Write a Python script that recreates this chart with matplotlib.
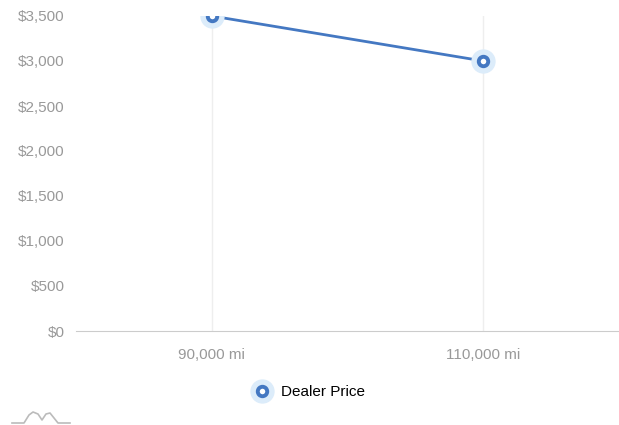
import matplotlib
matplotlib.use("Agg")
import matplotlib.pyplot as plt
from matplotlib.lines import Line2D
from matplotlib.legend_handler import HandlerTuple
from matplotlib.ticker import FuncFormatter

# data
mileage = ["90,000 mi", "110,000 mi"]
dealer_price = [3500, 3000]
y_ticks = [0, 500, 1000, 1500, 2000, 2500, 3000, 3500]

blue = "#4478c2"
halo = "#dcecfa"
grey = "#999999"

plt.rcParams['font.family'] = ['Liberation Sans', 'DejaVu Sans']

fig = plt.figure(figsize=(6.19, 4.25), dpi=100)
ax = fig.add_axes([76/619, (425-331)/425, 1 - 76/619, (331-16)/425])

x = list(range(len(mileage)))
ax.plot(x, dealer_price, color=blue, lw=2.0, zorder=3)
ax.plot(x, dealer_price, ls="none", marker="o", ms=16.5, mfc=halo, mec=halo, zorder=4)
ax.plot(x, dealer_price, ls="none", marker="o", ms=6.8, mfc="white", mec=blue, mew=2.8, zorder=5)

ax.set_xlim(-0.5, 1.5)
ax.set_ylim(0, 3500)
ax.set_xticks(x)
ax.set_xticklabels(mileage)
ax.set_yticks(y_ticks)
ax.yaxis.set_major_formatter(FuncFormatter(lambda v, p: "${:,.0f}".format(v)))
ax.tick_params(axis="both", length=0, colors=grey, labelsize=11)
ax.tick_params(axis="y", pad=8)
ax.tick_params(axis="x", pad=12)

for s in ["top", "right", "left"]:
    ax.spines[s].set_visible(False)
ax.spines["bottom"].set_color("#cccccc")
ax.grid(axis="x", color="#eeeeee", lw=1)
ax.set_axisbelow(True)

# legend
h_line = Line2D([], [], color=blue, lw=1, ls=(0, (1, 12)))
h_halo = Line2D([], [], ls="none", marker="o", ms=16.5, mfc=halo, mec=halo)
h_mark = Line2D([], [], ls="none", marker="o", ms=6.8, mfc="white", mec=blue, mew=2.8)
fig.legend([(h_line, h_halo, h_mark)], ["Dealer Price"],
           handler_map={tuple: HandlerTuple(ndivide=1, pad=0)},
           loc="center", bbox_to_anchor=(308/619, 1 - 392/425),
           frameon=False, fontsize=11, handlelength=1.4, handletextpad=0.5)

# small logo bottom-left
lx = [12, 24, 29, 33, 38, 42, 46, 50, 58, 70]
ly = [423, 423, 415, 412, 414, 420, 414, 413, 423, 423]
fig.add_artist(Line2D([v/619 for v in lx], [1 - v/425 for v in ly], color="#bbbbbb", lw=1.2))

fig.savefig("out.png", dpi=100)
